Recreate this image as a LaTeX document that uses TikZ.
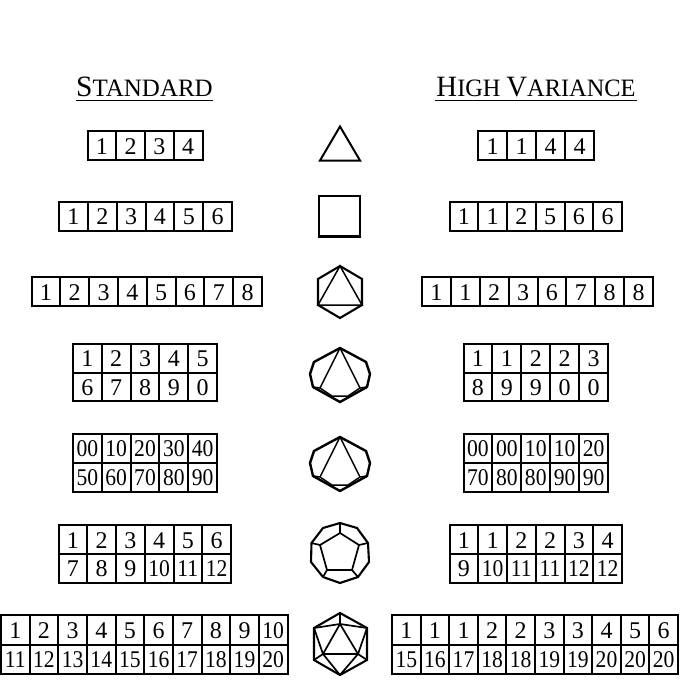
\documentclass[tikz,border=0pt]{standalone}
\usepackage{fontspec}
\setmainfont{Liberation Serif}
\newcommand{\celltext}[1]{\setbox0\hbox{#1}\ifdim\wd0>16pt\scalebox{.9}[1]{#1}\else #1\fi}
\newcommand{\capbig}[1]{{\fontsize{29.5}{30}\selectfont #1}}
\newcommand{\capsmall}[1]{{\fontsize{25}{30}\selectfont #1}}
\tikzset{
  x=1pt,y=-1pt,
  gridline/.style={line width=2pt,black,line join=miter},
  digit/.style={inner sep=0pt,text height=16pt,text depth=0pt,font=\fontsize{24}{24}\selectfont},
  title/.style={inner sep=0pt,anchor=base},
  solid edge/.style={line width=2.1pt,line join=miter},
  thin edge/.style={line width=1.5pt,line join=miter},
}
% \dicerow{x left}{x right}{y top}{y bottom}{comma list}
\newcommand{\dicerow}[5]{%
  \draw[gridline] (#1,#3) rectangle (#2,#4);
  \foreach \v [count=\i] in {#5} {\xdef\nc{\i}}
  \foreach \v [count=\i] in {#5} {
    \pgfmathsetmacro{\xa}{#1+(#2-#1)*(\i-1)/\nc}
    \pgfmathsetmacro{\xb}{#1+(#2-#1)*\i/\nc}
    \pgfmathsetmacro{\xm}{(\xa+\xb)/2}
    \pgfmathsetmacro{\ym}{(#3+#4)/2+0.6}
    \ifnum\i>1 \draw[gridline] (\xa,#3) -- (\xa,#4);\fi
    \node[digit] at (\xm,\ym) {\celltext{\v}};
  }
}
\begin{document}
\begin{tikzpicture}
\useasboundingbox (0,0) rectangle (680,680);
\fill[white] (0,0) rectangle (680,680);
% titles
\node[title] (stdtitle) at (144.5,96.7) {\capbig{S}\capsmall{TANDARD}};
\node[title] (hvtitle) at (536,96.7) {\scalebox{.975}[1]{\capbig{H}\capsmall{IGH}\hspace{6pt}\capbig{V}\capsmall{ARIANCE}}};
\draw[line width=1.6pt] (76,100.5) -- (213,100.5);
\draw[line width=1.6pt] (435,100.5) -- (637,100.5);
% left
\dicerow{87.5}{202.5}{131}{160}{1,2,3,4}
\dicerow{59}{232}{201.5}{231}{1,2,3,4,5,6}
\dicerow{31.5}{262}{277}{306}{1,2,3,4,5,6,7,8}
\dicerow{73}{217}{343.5}{372.5}{1,2,3,4,5}
\dicerow{73}{217}{372.5}{401}{6,7,8,9,0}
\dicerow{73}{217}{433.5}{462.5}{00,10,20,30,40}
\dicerow{73}{217}{462.5}{491.5}{50,60,70,80,90}
\dicerow{58.5}{231}{525}{554}{1,2,3,4,5,6}
\dicerow{58.5}{231}{554}{582.5}{7,8,9,10,11,12}
\dicerow{1}{287.5}{615}{644.5}{1,2,3,4,5,6,7,8,9,10}
\dicerow{1}{287.5}{644.5}{674}{11,12,13,14,15,16,17,18,19,20}
% right
\dicerow{478}{594}{131}{160}{1,1,4,4}
\dicerow{449.5}{622}{201.5}{231}{1,1,2,5,6,6}
\dicerow{422}{653}{277}{306}{1,1,2,3,6,7,8,8}
\dicerow{463.5}{608}{343.5}{372.5}{1,1,2,2,3}
\dicerow{463.5}{608}{372.5}{401}{8,9,9,0,0}
\dicerow{463.5}{608}{433.5}{462.5}{00,00,10,10,20}
\dicerow{463.5}{608}{462.5}{491.5}{70,80,80,90,90}
\dicerow{449.5}{622}{525}{554}{1,1,2,2,3,4}
\dicerow{449.5}{622}{554}{582.5}{9,10,11,11,12,12}
\dicerow{392}{678}{615}{644.5}{1,1,1,2,2,3,3,4,5,6}
\dicerow{392}{678}{644.5}{674}{15,16,17,18,18,19,19,20,20,20}
% d4
\draw[solid edge,line width=2pt] (340,126.5) -- (360,160.5) -- (320,160.5) -- cycle;
% d6
\draw[solid edge,line width=2.2pt] (319,196) rectangle (360,236.5);
% d8
\draw[solid edge] (340,266) -- (362,279) -- (362,305) -- (340,318) -- (318,305) -- (318,279) -- cycle;
\draw[thin edge] (340,266) -- (362,305) -- (318,305) -- cycle;
% d10
\draw[solid edge,line width=2.4pt] (340,348) -- (366,362) -- (370,374) -- (367,387) -- (340,402) -- (313,387) -- (310,374) -- (314,362) -- cycle;
\draw[thin edge] (340,348) -- (320,388) -- (313,387);
\draw[thin edge] (340,348) -- (360,388) -- (367,387);
\draw[thin edge] (320,388) -- (332,396) -- (348,396) -- (360,388);
% d100
\draw[solid edge,line width=2.4pt] (340,437) -- (366,451) -- (370,463) -- (367,476) -- (340,491) -- (313,476) -- (310,463) -- (314,451) -- cycle;
\draw[thin edge] (340,437) -- (320,477) -- (313,476);
\draw[thin edge] (340,437) -- (360,477) -- (367,476);
\draw[thin edge] (320,477) -- (332,485) -- (348,485) -- (360,477);
% d12
\draw[solid edge] (340,523) -- (357,528) -- (368,543) -- (369,562) -- (358,577) -- (340,583) -- (323,577) -- (311,562) -- (311.5,543) -- (323,528) -- cycle;
\draw[thin edge,line width=1.7pt] (340,533) -- (359,545) -- (352,570) -- (327,570) -- (320,545) -- cycle;
\draw[thin edge,line width=1.7pt] (340,523) -- (340,533);
\draw[thin edge,line width=1.7pt] (368,543) -- (359,545);
\draw[thin edge,line width=1.7pt] (358,577) -- (352,570);
\draw[thin edge,line width=1.7pt] (323,577) -- (327,570);
\draw[thin edge,line width=1.7pt] (311.5,543) -- (320,545);
% d20
\draw[solid edge] (340,613) -- (367,628) -- (367,660) -- (340,675) -- (314,660) -- (314,628) -- cycle;
\draw[thin edge,line width=1.7pt] (340,624) -- (358,654) -- (323,654) -- cycle;
\draw[thin edge,line width=1.7pt] (340,613) -- (340,624);
\draw[thin edge,line width=1.7pt] (314,628) -- (340,624) -- (367,628);
\draw[thin edge,line width=1.7pt] (314,628) -- (323,654) -- (314,660);
\draw[thin edge,line width=1.7pt] (367,628) -- (358,654) -- (367,660);
\draw[thin edge,line width=1.7pt] (340,675) -- (323,654);
\draw[thin edge,line width=1.7pt] (340,675) -- (358,654);
\end{tikzpicture}
\end{document}
